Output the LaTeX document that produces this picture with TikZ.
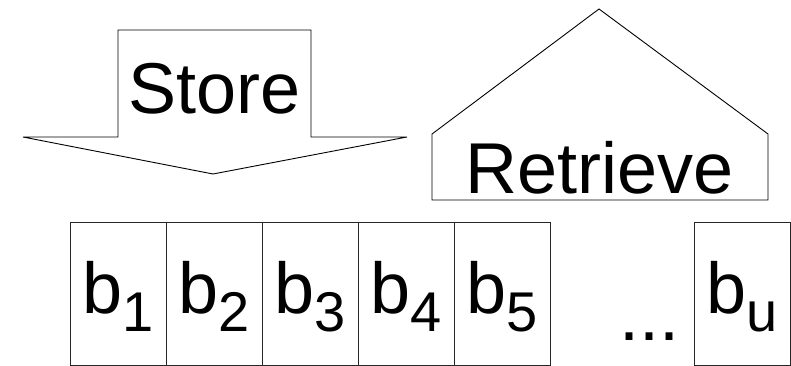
\documentclass[tikz,border=0pt]{standalone}
\usepackage{fontspec}
\setmainfont{Liberation Sans}
\newcommand{\bigtxt}{\fontsize{72}{72}\selectfont}
\newcommand{\bsub}[1]{b\raisebox{-18pt}{\fontsize{56}{56}\selectfont #1}}
\begin{document}
\begin{tikzpicture}[x=1pt,y=-1pt,
  shapeline/.style={draw=black,line width=0.9pt,line join=miter},
  cell/.style={draw=black!85,line width=0.9pt,minimum width=96pt,minimum height=143pt,inner sep=0pt},
  bigtext/.style={font=\bigtxt,inner sep=0pt,anchor=base}]
\useasboundingbox (0,0) rectangle (791,366);
% Store arrow
\draw[shapeline] (118,30) -- (311,30) -- (311,137) -- (407,137) -- (213,174) -- (23,137) -- (118,137) -- cycle;
\node[bigtext] (store) at (214.5,114) {Store};
% Retrieve house
\draw[shapeline] (432,200) -- (432,134) -- (599,9) -- (768,134) -- (768,200) -- cycle;
\node[bigtext] (retrieve) at (600,193) {Retrieve};
% cells
\foreach \i/\x in {1/118.5,2/214.5,3/310.5,4/406.5,5/502.5}{
  \node[cell] (c\i) at (\x,293.5) {};
  \node[bigtext] (t\i) at (\x,313) {\bsub{\i}};
}
\node[cell] (cu) at (742,293.5) {};
\node[bigtext] (tu) at (742,313) {\bsub{u}};
\node[bigtext] (dots) at (649,340) {...};
\end{tikzpicture}
\end{document}
